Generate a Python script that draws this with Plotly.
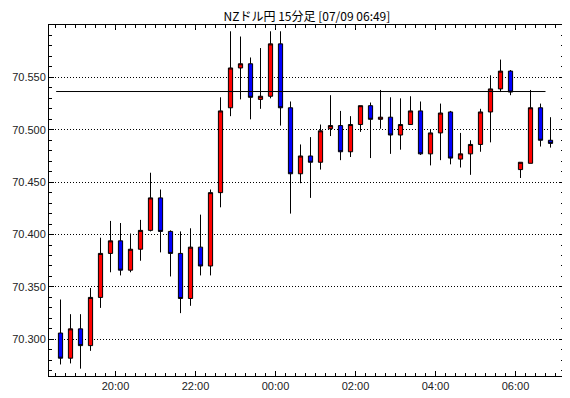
import pandas as pd
import plotly.graph_objects as go

title_text = "NZドル円 15分足 [07/09 06:49]"
first_bar = "2024-07-08 18:30"
bar_minutes = 15

opens = [70.306, 70.282, 70.310, 70.294, 70.340, 70.382, 70.394, 70.366, 70.386, 70.404,
         70.435, 70.403, 70.382, 70.339, 70.388, 70.370, 70.440, 70.521, 70.559, 70.563,
         70.529, 70.532, 70.582, 70.521, 70.458, 70.475, 70.469, 70.501, 70.504, 70.479,
         70.505, 70.523, 70.510, 70.512, 70.495, 70.505, 70.518, 70.477, 70.497, 70.517,
         70.472, 70.477, 70.486, 70.517, 70.539, 70.556, 70.462, 70.468, 70.521, 70.490]
highs = [70.338, 70.324, 70.324, 70.349, 70.397, 70.413, 70.411, 70.401, 70.414, 70.459,
         70.443, 70.404, 70.403, 70.406, 70.419, 70.443, 70.531, 70.594, 70.589, 70.569,
         70.578, 70.594, 70.594, 70.527, 70.486, 70.493, 70.505, 70.533, 70.518, 70.513,
         70.523, 70.526, 70.538, 70.531, 70.530, 70.532, 70.527, 70.500, 70.525, 70.518,
         70.497, 70.490, 70.520, 70.552, 70.567, 70.557, 70.469, 70.538, 70.525, 70.512]
lows = [70.276, 70.277, 70.272, 70.289, 70.330, 70.364, 70.361, 70.364, 70.375, 70.403,
        70.383, 70.360, 70.325, 70.332, 70.361, 70.361, 70.426, 70.513, 70.529, 70.510,
        70.520, 70.530, 70.504, 70.420, 70.449, 70.435, 70.462, 70.494, 70.471, 70.474,
        70.498, 70.473, 70.501, 70.477, 70.481, 70.505, 70.476, 70.466, 70.471, 70.467,
        70.464, 70.457, 70.479, 70.488, 70.536, 70.533, 70.454, 70.468, 70.484, 70.483]
closes = [70.282, 70.310, 70.294, 70.340, 70.382, 70.394, 70.366, 70.386, 70.404, 70.435,
          70.403, 70.382, 70.339, 70.388, 70.370, 70.440, 70.518, 70.559, 70.563, 70.531,
          70.532, 70.582, 70.521, 70.458, 70.475, 70.469, 70.499, 70.504, 70.479, 70.505,
          70.523, 70.510, 70.512, 70.495, 70.505, 70.518, 70.477, 70.497, 70.516, 70.473,
          70.477, 70.486, 70.517, 70.539, 70.556, 70.536, 70.469, 70.521, 70.490, 70.487]

y_tick_values = [70.300, 70.350, 70.400, 70.450, 70.500, 70.550]
y_tick_labels = ["70.300", "70.350", "70.400", "70.450", "70.500", "70.550"]

ref_level = 70.5365
ref_start = "2024-07-08 18:31"
ref_end = "2024-07-09 06:45"

step = pd.Timedelta(minutes=bar_minutes)
bar_starts = pd.date_range(first_bar, periods=len(opens), freq=step)
centers = bar_starts + step / 2

x_lo = centers[0] - step * 1.15
x_hi = centers[-1] + step * 1.35

fig = go.Figure()
fig.add_trace(go.Candlestick(
    x=centers, open=opens, high=highs, low=lows, close=closes,
    increasing=dict(fillcolor="#FF0000", line=dict(color="black", width=1)),
    decreasing=dict(fillcolor="#0000FF", line=dict(color="black", width=1)),
    whiskerwidth=0, showlegend=False, hoverinfo="skip",
))

fig.add_shape(type="line", xref="x", yref="y", x0=ref_start, x1=ref_end,
              y0=ref_level, y1=ref_level, line=dict(color="black", width=1), layer="above")

# the page body has an 8px default margin, so the figure is sized to fit the window
fig.update_layout(
    template="none",
    width=562, height=390,
    margin=dict(l=41, r=6, t=17, b=22, autoexpand=False),
    paper_bgcolor="white", plot_bgcolor="white",
    boxgap=0.4,
    title=dict(text=title_text, x=0.532, xanchor="center", y=0.977, yanchor="middle",
               font=dict(family="Noto Sans CJK JP", size=12, color="black")),
    font=dict(family="Liberation Sans", size=11, color="#222222"),
    showlegend=False,
)

fig.update_xaxes(
    type="date", range=[x_lo, x_hi], automargin=False,
    tick0="2024-07-08 00:00", dtick=2 * 3600 * 1000, tickformat="%H:%M",
    ticks="inside", ticklen=5, tickcolor="black", tickwidth=1,
    minor=dict(dtick=bar_minutes * 60 * 1000, ticks="inside", ticklen=3, tickcolor="black",
               tickwidth=1, showgrid=False),
    showline=True, linecolor="black", linewidth=1, mirror="ticks",
    showgrid=False, zeroline=False, rangeslider_visible=False,
    tickfont=dict(family="Liberation Sans", size=11, color="#222222"),
)

fig.update_yaxes(
    range=[70.265, 70.600], automargin=False,
    tickmode="array", tickvals=y_tick_values, ticktext=y_tick_labels,
    ticks="inside", ticklen=5, tickcolor="black", tickwidth=1,
    minor=dict(dtick=0.01, tick0=70.3, ticks="inside", ticklen=3, tickcolor="black",
               tickwidth=1, showgrid=False),
    showline=True, linecolor="black", linewidth=1, mirror="ticks",
    showgrid=True, gridcolor="black", griddash="1px,2px", gridwidth=1, zeroline=False,
    tickfont=dict(family="Liberation Sans", size=11, color="#222222"),
)

fig.write_html("out.html")
